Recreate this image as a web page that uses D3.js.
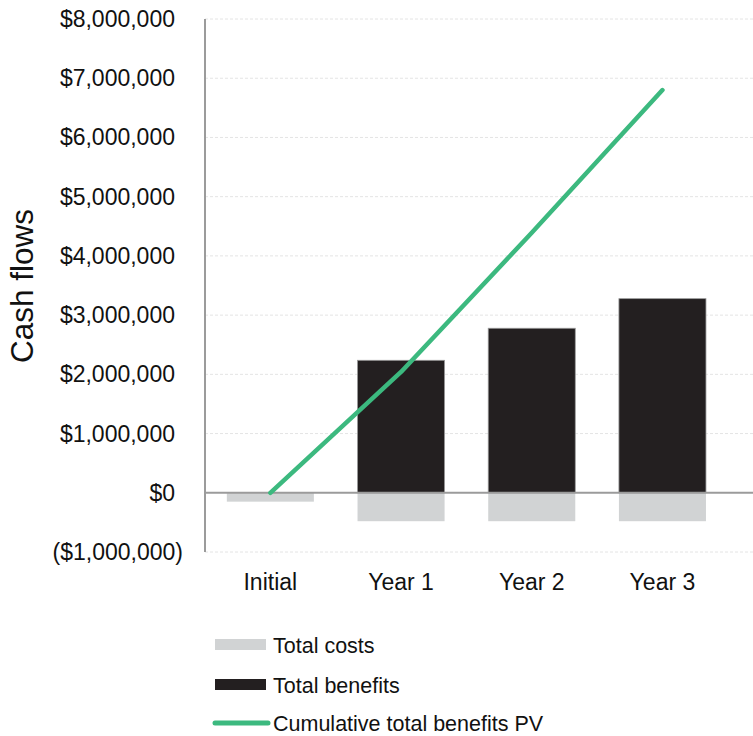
<!DOCTYPE html>
<html><head><meta charset="utf-8">
<script src="https://cdn.jsdelivr.net/npm/d3@7"></script>
<style>body{margin:0;background:#fff;} text{font-family:"Liberation Sans",Arial,sans-serif;fill:#111;}</style>
</head><body>
<svg id="c" width="753" height="736"></svg>
<script>
const categories = ["Initial", "Year 1", "Year 2", "Year 3"];
const totalCosts = [-150000, -480000, -480000, -480000];
const totalBenefits = [0, 2237000, 2778000, 3278000];
const cumulativeBenefitsPV = [0, 2040000, 4390000, 6800000];
const yTicks = [-1000000, 0, 1000000, 2000000, 3000000, 4000000, 5000000, 6000000, 7000000, 8000000];
const legendLabels = ["Total costs", "Total benefits", "Cumulative total benefits PV"];

const svg = d3.select("#c");
const x0 = 205, x1 = 727.8, gridRight = 753;
const x = d3.scaleBand().domain(categories).range([x0, x1]).paddingInner(0.334).paddingOuter(0.167);
const y = d3.scaleLinear().domain([-1000000, 8000000]).range([552, 19]);

const fmt = v => {
  const s = "$" + d3.format(",")(Math.abs(v));
  return v < 0 ? "(" + s + ")" : s;
};

// gridlines
svg.append("g").selectAll("line").data(yTicks.filter(t => t !== 0)).join("line")
  .attr("x1", x0).attr("x2", gridRight)
  .attr("y1", d => y(d)).attr("y2", d => y(d))
  .attr("stroke", "#e4e4e4").attr("stroke-width", 1).attr("stroke-dasharray", "3,2");

// y axis labels
svg.append("g").selectAll("text").data(yTicks).join("text")
  .attr("x", d => d < 0 ? 183 : 175)
  .attr("y", d => y(d))
  .attr("dy", "0.35em")
  .attr("text-anchor", "end")
  .attr("font-size", 23)
  .text(fmt);

// bars
const colors = {cost: "#d1d3d4", benefit: "#231f20", line: "#3cb97f"};
svg.append("g").selectAll("rect").data(categories).join("rect")
  .attr("x", d => x(d)).attr("width", x.bandwidth())
  .attr("y", (d, i) => y(0)).attr("height", (d, i) => y(totalCosts[i]) - y(0))
  .attr("fill", colors.cost);
svg.append("g").selectAll("rect").data(categories.filter((d, i) => totalBenefits[i] > 0)).join("rect")
  .attr("x", d => x(d)).attr("width", x.bandwidth())
  .attr("y", d => y(totalBenefits[categories.indexOf(d)]))
  .attr("height", d => y(0) - y(totalBenefits[categories.indexOf(d)]))
  .attr("fill", colors.benefit).attr("stroke", "#9a9a9a").attr("stroke-width", 0.8);

// zero line
svg.append("line").attr("x1", x0).attr("x2", gridRight).attr("y1", y(0)).attr("y2", y(0))
  .attr("stroke", "#9b9b9b").attr("stroke-width", 2);
// y axis line
svg.append("line").attr("x1", x0).attr("x2", x0).attr("y1", y(8000000)).attr("y2", y(-1000000))
  .attr("stroke", "#9b9b9b").attr("stroke-width", 2);

// cumulative line
const line = d3.line().x((d, i) => x(categories[i]) + x.bandwidth() / 2).y(d => y(d));
svg.append("path").datum(cumulativeBenefitsPV).attr("d", line)
  .attr("fill", "none").attr("stroke", colors.line).attr("stroke-width", 4.5)
  .attr("stroke-linecap", "round").attr("stroke-linejoin", "round");

// x labels
svg.append("g").selectAll("text").data(categories).join("text")
  .attr("x", d => x(d) + x.bandwidth() / 2).attr("y", 590)
  .attr("text-anchor", "middle").attr("font-size", 23).text(d => d);

// y title
svg.append("text").attr("transform", "translate(33,286) rotate(-90)")
  .attr("text-anchor", "middle").attr("font-size", 31.5).text("Cash flows");

// legend
const lg = svg.append("g");
const rows = [645, 685, 723];
lg.append("rect").attr("x", 215).attr("y", rows[0] - 6).attr("width", 51).attr("height", 11).attr("fill", colors.cost);
lg.append("rect").attr("x", 215).attr("y", rows[1] - 6).attr("width", 51).attr("height", 11).attr("fill", colors.benefit);
lg.append("line").attr("x1", 215).attr("x2", 268).attr("y1", rows[2]).attr("y2", rows[2])
  .attr("stroke", colors.line).attr("stroke-width", 5).attr("stroke-linecap", "round");
lg.selectAll("text").data(legendLabels).join("text")
  .attr("x", 273).attr("y", (d, i) => rows[i]).attr("dy", "0.35em")
  .attr("font-size", 21.5).text(d => d);
</script>
</body></html>
